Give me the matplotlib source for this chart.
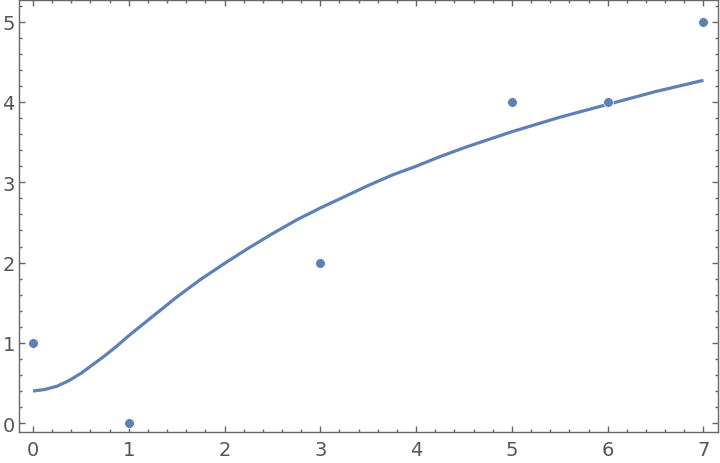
import matplotlib
matplotlib.use("Agg")
import matplotlib.pyplot as plt
from matplotlib.ticker import MultipleLocator

# data points
px = [0, 1, 3, 5, 6, 7]
py = [1, 0, 2, 4, 4, 5]

# fitted curve
cx = [0, 0.125, 0.25, 0.375, 0.5, 0.625, 0.75, 0.875, 1, 1.125, 1.25, 1.375, 1.5,
      1.75, 2, 2.25, 2.5, 2.75, 3, 3.25, 3.5,
      3.75, 4, 4.25, 4.5, 4.75, 5, 5.25, 5.5, 5.75, 6, 6.25, 6.5, 6.75, 7]
cy = [0.40, 0.42, 0.46, 0.53, 0.62, 0.73, 0.84, 0.96, 1.09, 1.21, 1.33, 1.45, 1.57,
      1.79, 1.99, 2.18, 2.36, 2.53, 2.68,
      2.82, 2.96, 3.09, 3.20, 3.32, 3.43, 3.53, 3.63, 3.72, 3.81, 3.89, 3.97, 4.05,
      4.13, 4.20, 4.27]

color = "#5E81B5"
fig = plt.figure(figsize=(7.2, 4.64), dpi=100)
ax = fig.add_axes([0.0264, 0.0668, 0.9706, 0.931])
ax.plot(cx, cy, color=color, lw=2.3, solid_capstyle="butt", solid_joinstyle="round")
ax.plot(px, py, "o", color=color, ms=7, mec="white", mew=0.5)

ax.set_xlim(-0.146, 7.15)
ax.set_ylim(-0.11, 5.27)
ax.xaxis.set_major_locator(MultipleLocator(1))
ax.xaxis.set_minor_locator(MultipleLocator(0.2))
ax.yaxis.set_major_locator(MultipleLocator(1))
ax.yaxis.set_minor_locator(MultipleLocator(0.2))
fc = "#666666"
for s in ax.spines.values():
    s.set_color(fc)
    s.set_linewidth(1.0)
ax.tick_params(which="both", direction="in", top=True, right=True, color=fc,
               labelcolor="#555555", labelsize=14, width=1.0)
ax.tick_params(which="major", length=4.5)
ax.tick_params(which="minor", length=2.5)
ax.tick_params(axis="x", which="major", pad=6)
ax.tick_params(axis="y", which="major", pad=3)
ax.tick_params(axis="x", which="both", labeltop=False)
ax.tick_params(axis="y", which="both", labelright=False)
fig.savefig("out.png", dpi=100)
